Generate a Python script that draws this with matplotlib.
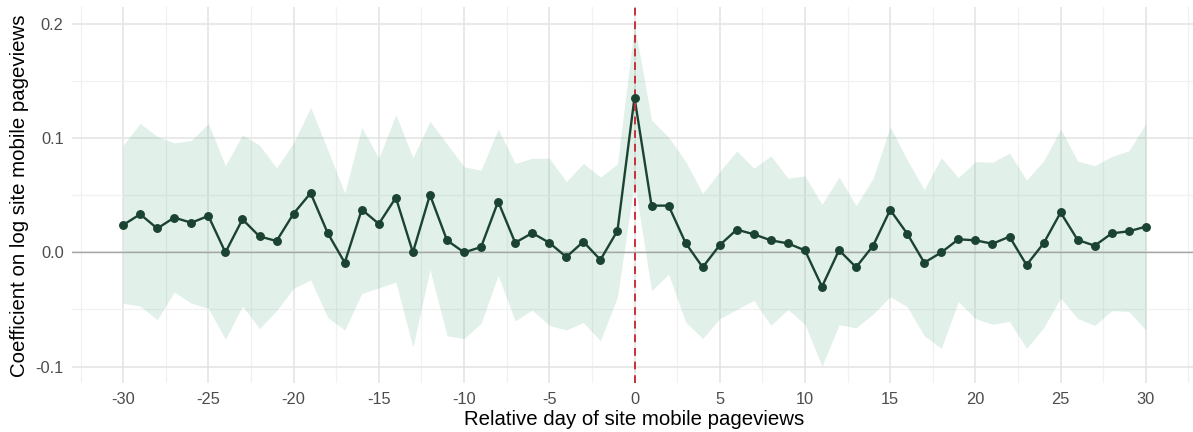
import numpy as np
import matplotlib
matplotlib.use("Agg")
import matplotlib.pyplot as plt
from matplotlib.ticker import MultipleLocator

plt.rcParams['font.family'] = ['Liberation Sans', 'DejaVu Sans']

days = list(range(-30, 31))
coef = [0.024, 0.0335, 0.021, 0.0305, 0.026, 0.032, 0.0, 0.029, 0.014, 0.010,
        0.034, 0.052, 0.017, -0.009, 0.0376, 0.025, 0.048, 0.0, 0.0505, 0.0106,
        0.0, 0.0047, 0.0446, 0.0085, 0.017, 0.0085, -0.004, 0.0094, -0.0065, 0.019,
        0.1357,
        0.041, 0.041, 0.0082, -0.013, 0.0064, 0.020, 0.0159, 0.0106, 0.0079, 0.0018,
        -0.030, 0.002, -0.013, 0.0059, 0.0373, 0.0164, -0.009, 0.0, 0.0115, 0.0106,
        0.0076, 0.0138, -0.011, 0.0079, 0.035, 0.0109, 0.0059, 0.0167, 0.0185, 0.0226]
upper = [0.094, 0.113, 0.1016, 0.096, 0.098, 0.113, 0.076, 0.103, 0.094, 0.074,
         0.096, 0.127, 0.090, 0.052, 0.1095, 0.0825, 0.1207, 0.083, 0.1148, 0.095,
         0.075, 0.072, 0.108, 0.078, 0.0825, 0.0825, 0.062, 0.078, 0.066, 0.0775,
         0.1995,
         0.116, 0.101, 0.0796, 0.0517, 0.0708, 0.089, 0.0737, 0.0846, 0.065, 0.067,
         0.042, 0.066, 0.041, 0.065, 0.110, 0.081, 0.055, 0.083, 0.0655, 0.0796,
         0.079, 0.087, 0.0634, 0.080, 0.108, 0.080, 0.076, 0.084, 0.089, 0.1128]
lower = [-0.0446, -0.047, -0.059, -0.0346, -0.0446, -0.049, -0.076, -0.047, -0.0667, -0.051,
         -0.0314, -0.024, -0.057, -0.068, -0.036, -0.031, -0.026, -0.083, -0.015, -0.073,
         -0.0755, -0.062, -0.020, -0.060, -0.0505, -0.064, -0.068, -0.0614, -0.0775, -0.039,
         0.062,
         -0.0335, -0.019, -0.061, -0.0755, -0.058, -0.050, -0.042, -0.064, -0.050, -0.063,
         -0.0997, -0.0634, -0.066, -0.054, -0.0388, -0.0476, -0.073, -0.084, -0.043, -0.058,
         -0.063, -0.0605, -0.084, -0.066, -0.040, -0.058, -0.064, -0.051, -0.0517, -0.068]

xticks = [-30, -25, -20, -15, -10, -5, 0, 5, 10, 15, 20, 25, 30]
yticks = [-0.1, 0.0, 0.1, 0.2]
ytick_labels = ["-0.1", "0.0", "0.1", "0.2"]

W, H = 1193, 432
fig = plt.figure(figsize=(W / 100, H / 100), dpi=100)
ax = fig.add_axes([72 / W, 1 - 383.3 / H, 1125 / W, 376 / H])

ax.set_xlim(-33, 33)
ax.set_ylim(-0.1147, 0.2148)

ax.set_xticks(xticks)
ax.set_xticklabels([str(t) for t in xticks])
ax.set_yticks(yticks)
ax.set_yticklabels(ytick_labels)
ax.xaxis.set_minor_locator(MultipleLocator(2.5))
ax.yaxis.set_minor_locator(MultipleLocator(0.05))
ax.grid(which='major', color='#e3e3e3', linewidth=1.1)
ax.grid(which='minor', color='#f1f1f1', linewidth=0.9)
ax.set_axisbelow(True)
for s in ax.spines.values():
    s.set_visible(False)
ax.tick_params(which='both', length=0)
ax.tick_params(axis='x', pad=6.5, labelsize=11.8, labelcolor='#4d4d4d')
ax.tick_params(axis='y', pad=6, labelsize=11.8, labelcolor='#4d4d4d')

ax.fill_between(days, lower, upper, color=(105/255, 180/255, 145/255), alpha=0.2,
                linewidth=0, zorder=2)
ax.axhline(0, color='#a6a6a6', linewidth=1.0, zorder=3)
ax.plot(days, coef, color='#1b4332', linewidth=1.7, zorder=4)
ax.axvline(0, color='#c8303a', linewidth=1.4, linestyle=(0, (4, 3)), zorder=5)
ax.plot(days, coef, linestyle='none', marker='o', markersize=5.4,
        color='#1b4332', zorder=6)

ax.set_xlabel("Relative day of site mobile pageviews", fontsize=14.7, color='black', labelpad=2)
ax.set_ylabel("Coefficient on log site mobile pageviews", fontsize=14.7, color='black', labelpad=5)

fig.savefig("out.png", dpi=100)
